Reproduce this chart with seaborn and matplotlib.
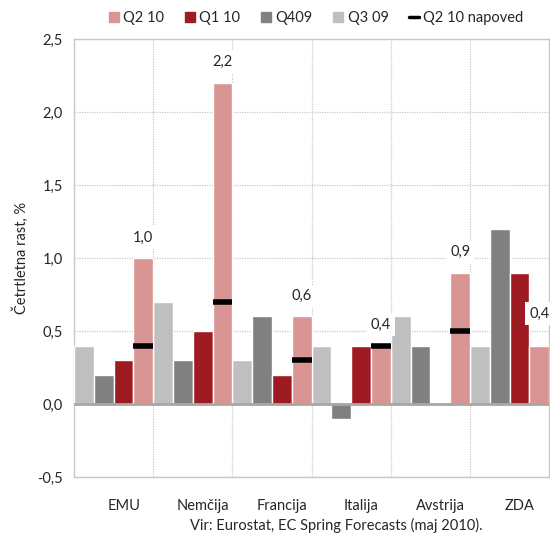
import numpy as np
import pandas as pd
import seaborn as sns
import matplotlib.pyplot as plt
from matplotlib.lines import Line2D
from matplotlib.patches import Patch

sns.set_theme(style="white")
plt.rcParams['font.family'] = ['Lato', 'DejaVu Sans']

# data
countries = ['EMU', 'Nemčija', 'Francija', 'Italija', 'Avstrija', 'ZDA']
q3_09 = [0.4, 0.7, 0.3, 0.4, 0.6, 0.4]
q4_09 = [0.2, 0.3, 0.6, -0.1, 0.4, 1.2]
q1_10 = [0.3, 0.5, 0.2, 0.4, np.nan, 0.9]
q2_10 = [1.0, 2.2, 0.6, 0.4, 0.9, 0.4]
q2_10_napoved = [0.4, 0.7, 0.3, 0.4, 0.5, np.nan]
value_labels = ['1,0', '2,2', '0,6', '0,4', '0,9', '0,4']

series_names = ['Q3 09', 'Q409', 'Q1 10', 'Q2 10']
colors = {'Q2 10': '#D99594', 'Q1 10': '#9E1B22', 'Q409': '#808080', 'Q3 09': '#BFBFBF'}

df = pd.DataFrame({
    'drzava': countries * 4,
    'serija': np.repeat(series_names, len(countries)),
    'rast': q3_09 + q4_09 + q1_10 + q2_10,
})

fig = plt.figure(figsize=(5.5, 5.41), dpi=100)
ax = fig.add_axes([0.1345, 0.118, 0.864, 0.81])

sns.barplot(data=df, x='drzava', y='rast', hue='serija', hue_order=series_names,
            order=countries, palette=colors, saturation=1, width=1.0, errorbar=None,
            edgecolor='white', linewidth=1, ax=ax, legend=False, zorder=3)

ax.set_xlim(-0.5, len(countries) - 0.5)
ax.set_ylim(-0.5, 2.5)
ax.set_yticks(np.arange(-0.5, 2.51, 0.5))
ax.set_yticklabels([f"{v:.1f}".replace('.', ',') for v in np.arange(-0.5, 2.51, 0.5)], fontsize=10.5)

# category labels (slightly right of group centre, like the original)
ax.set_xticks(np.arange(len(countries)) + 0.13)
ax.set_xticklabels(countries, fontsize=10.5)
ax.set_xticks(np.arange(len(countries) - 1) + 0.5, minor=True)
ax.tick_params(axis='both', which='both', length=0, pad=8)
ax.tick_params(axis='x', pad=16)

ax.grid(axis='y', which='major', color='#C8C8C8', linestyle=(0, (1, 1)), linewidth=0.9, zorder=0)
ax.grid(axis='x', which='minor', color='#C8C8C8', linestyle=(0, (1, 1)), linewidth=0.9, zorder=0)
ax.axhline(0, color='#A6A6A6', linewidth=2, zorder=4)
for s in ax.spines.values():
    s.set_color('#C8C8C8')
    s.set_linewidth(1)

ax.set_xlabel('')
ax.set_ylabel('Četrtletna rast, %', fontsize=10.5, labelpad=6)

# forecast markers and labels on the Q2 10 bars
pink_bars = ax.containers[series_names.index('Q2 10')]
for i, bar in enumerate(pink_bars):
    x0, w = bar.get_x(), bar.get_width()
    if not np.isnan(q2_10_napoved[i]):
        ax.hlines(q2_10_napoved[i], x0, x0 + w, color='black', linewidth=4, zorder=5)
    off = 0.22 if countries[i] == 'ZDA' else 0.14
    ax.text(x0 + w / 2, q2_10[i] + off, value_labels[i], ha='center', va='center',
            fontsize=10.5, zorder=6,
            bbox=dict(facecolor='white', edgecolor='none', pad=3))

handles = [Patch(color=colors['Q2 10']), Patch(color=colors['Q1 10']),
           Patch(color=colors['Q409']), Patch(color=colors['Q3 09']),
           Line2D([], [], color='black', linewidth=2.5)]
fig.legend(handles, ['Q2 10', 'Q1 10', 'Q409', 'Q3 09', 'Q2 10 napoved'],
           loc='center', bbox_to_anchor=(0.575, 0.967), ncol=5, frameon=False,
           fontsize=10.5, handlelength=0.7, handleheight=0.7, handletextpad=0.3,
           columnspacing=1.4)

fig.text(0.612, 0.028, 'Vir: Eurostat, EC Spring Forecasts (maj 2010).', ha='center',
         va='center', fontsize=10.5)

fig.savefig('out.png', dpi=100)
